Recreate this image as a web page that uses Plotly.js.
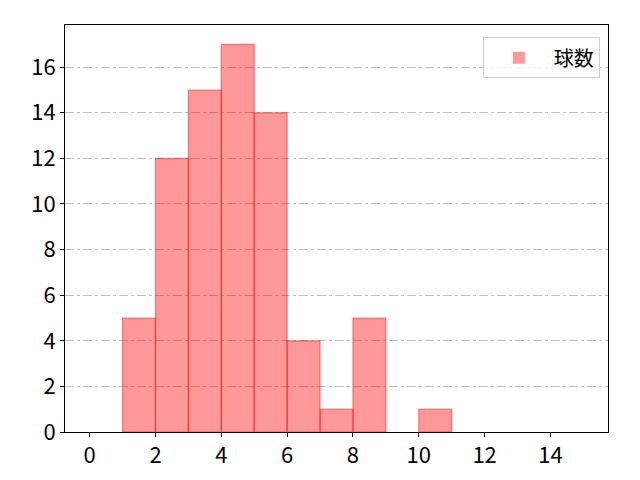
<!DOCTYPE html>
<html>
<head>
<meta charset="utf-8">
<script src="https://cdn.plot.ly/plotly-3.0.1.min.js"></script>
<style>
  html, body { margin: 0; padding: 0; background: #fff; }
  #chart { width: 640px; height: 480px; }
</style>
</head>
<body>
<div id="chart"></div>
<script>
// Histogram of 球数: left edges of the unit-width bins and their counts
const binStarts = [0, 1, 2, 3, 4, 5, 6, 7, 8, 9, 10, 11, 12, 13, 14];
const counts = [0, 5, 12, 15, 17, 14, 4, 1, 5, 0, 1, 0, 0, 0, 0];
const seriesName = "球数";
const xTicks = [0, 2, 4, 6, 8, 10, 12, 14];
const yTicks = [0, 2, 4, 6, 8, 10, 12, 14, 16];

const FONT = "'Noto Sans CJK JP', 'Noto Sans', sans-serif";

// empty bins draw no outline on the baseline
const edgeColors = counts.map((c) => (c > 0 ? "rgba(255,0,0,0.45)" : "rgba(0,0,0,0)"));

const traces = [{
  type: "bar",
  name: seriesName,
  x: binStarts,
  y: counts,
  width: 1,
  offset: 0,
  marker: {
    color: "rgba(255,0,0,0.4)",
    line: { color: edgeColors, width: 1.2 },
  },
  showlegend: true,
}];

const axisBase = {
  showline: true,
  linecolor: "#000",
  linewidth: 1,
  mirror: true,
  ticks: "outside",
  ticklen: 4,
  tickcolor: "#000",
  tickfont: { family: FONT, size: 22, color: "#000" },
  zeroline: false,
};

const layout = {
  width: 640,
  height: 480,
  margin: { l: 65, r: 32, t: 25, b: 48 },
  paper_bgcolor: "#fff",
  plot_bgcolor: "#fff",
  font: { family: FONT, color: "#000" },
  bargap: 0,
  xaxis: Object.assign({}, axisBase, {
    range: [-0.75, 15.75],
    tickvals: xTicks,
    showgrid: false,
  }),
  yaxis: Object.assign({}, axisBase, {
    range: [0, 17.85],
    tickvals: yTicks,
    showgrid: true,
    gridcolor: "#b0b0b0",
    gridwidth: 0.8,
    griddash: "dashdot",
  }),
  legend: {
    x: 0.985, y: 0.97,
    xanchor: "right", yanchor: "top",
    bgcolor: "rgba(255,255,255,0.8)",
    bordercolor: "#d0d0d0",
    borderwidth: 1,
    itemwidth: 60,
    font: { family: FONT, size: 20 },
  },
};

Plotly.newPlot("chart", traces, layout, { displayModeBar: false, staticPlot: true });
</script>
</body>
</html>
